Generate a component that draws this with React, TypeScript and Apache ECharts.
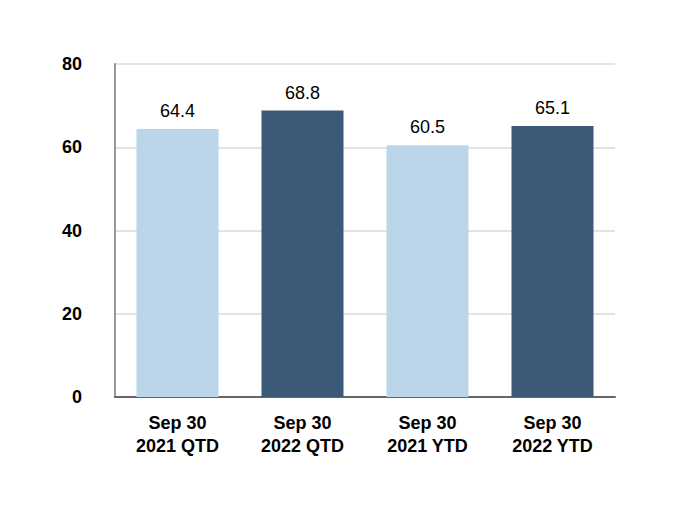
import React, { useEffect, useRef } from "react";
import * as echarts from "echarts";

const categories = ["Sep 30\n2021 QTD", "Sep 30\n2022 QTD", "Sep 30\n2021 YTD", "Sep 30\n2022 YTD"];
const values = [64.4, 68.8, 60.5, 65.1];
const barColors = ["#BCD6E9", "#3B5A78", "#BCD6E9", "#3B5A78"];
const yTicks = [0, 20, 40, 60, 80];

export default function App() {
  const ref = useRef<HTMLDivElement>(null);
  useEffect(() => {
    const chart = echarts.init(ref.current!, null, { renderer: "svg" });
    chart.setOption({
      animation: false,
      grid: { left: 115, right: 65, top: 64, bottom: 123 },
      xAxis: {
        type: "category",
        data: categories,
        axisLine: { show: true, lineStyle: { color: "#666", width: 2 } },
        axisTick: { show: false },
        axisLabel: {
          color: "#000",
          fontFamily: "Liberation Sans, Arial, sans-serif",
          fontWeight: "bold",
          fontSize: 18,
          lineHeight: 23,
          margin: 14,
        },
      },
      yAxis: {
        type: "value",
        min: yTicks[0],
        max: yTicks[yTicks.length - 1],
        interval: 20,
        axisLine: { show: true, lineStyle: { color: "#999", width: 2 } },
        axisTick: { show: false },
        splitLine: { show: true, lineStyle: { color: "#e3e3e3", width: 2 } },
        axisLabel: {
          color: "#000",
          fontFamily: "Liberation Sans, Arial, sans-serif",
          fontWeight: "bold",
          fontSize: 18,
          margin: 33,
        },
      },
      series: [
        {
          type: "bar",
          data: values.map((v, i) => ({ value: v, itemStyle: { color: barColors[i] } })),
          barWidth: "65.6%",
          label: {
            show: true,
            position: "top",
            distance: 9,
            color: "#000",
            fontFamily: "Liberation Sans, Arial, sans-serif",
            fontSize: 18,
            formatter: (p: any) => p.value.toFixed(1),
          },
        },
      ],
    });
    return () => chart.dispose();
  }, []);
  return <div ref={ref} style={{ width: 680, height: 520, position: "absolute", left: 0, top: 0 }} />;
}
